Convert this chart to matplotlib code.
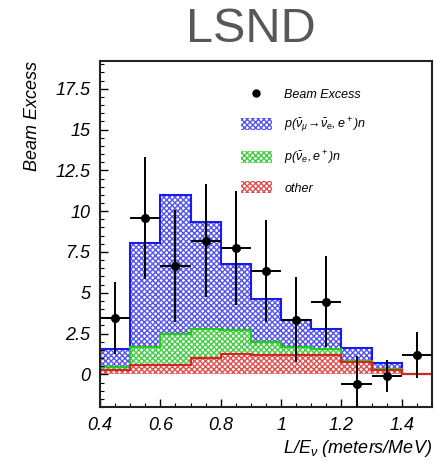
import numpy as np
import matplotlib
matplotlib.use('Agg')
import matplotlib.pyplot as plt
from matplotlib.ticker import MultipleLocator, FuncFormatter
from matplotlib.patches import Patch
from matplotlib.lines import Line2D
from matplotlib.legend_handler import HandlerLine2D

# bin edges in L/E (meters/MeV)
edges = [0.4, 0.5, 0.6, 0.7, 0.8, 0.9, 1.0, 1.1, 1.2, 1.3, 1.4, 1.5]

# stacked histogram tops (cumulative levels)
total = [1.58, 8.03, 11.0, 9.36, 6.74, 4.59, 3.36, 2.81, 1.64, 0.72, 0.05]
green_top = [0.45, 1.68, 2.46, 2.75, 2.70, 1.99, 1.68, 1.58, 0.80, 0.35, 0.05]
other = [0.25, 0.55, 0.55, 1.00, 1.27, 1.20, 1.17, 1.17, 0.76, 0.29, 0.05]

# beam excess data points
x_pts = [0.45, 0.55, 0.65, 0.75, 0.85, 0.95, 1.05, 1.15, 1.25, 1.35, 1.45]
y_pts = [3.46, 9.57, 6.64, 8.19, 7.72, 6.33, 3.36, 4.45, -0.61, -0.10, 1.17]
y_err = [2.2, 3.75, 3.45, 3.47, 3.5, 3.15, 2.63, 2.8, 1.75, 1.0, 1.4]
x_err = [0.05] * len(x_pts)


class RightMarker(HandlerLine2D):
    # put the legend dot at the right end of the handle box
    def get_xdata(self, legend, xdescent, ydescent, width, height, fontsize):
        xdata, _ = super().get_xdata(legend, xdescent, ydescent, width, height, fontsize)
        return xdata, np.array([width - xdescent - 3])


plt.rcParams['font.family'] = 'Liberation Sans'
plt.rcParams['font.style'] = 'italic'
plt.rcParams['mathtext.fontset'] = 'custom'
plt.rcParams['mathtext.it'] = 'Liberation Sans:italic'
plt.rcParams['mathtext.rm'] = 'Liberation Sans:italic'
plt.rcParams['hatch.linewidth'] = 1.0

fig = plt.figure(figsize=(4.37, 4.61), dpi=100)
ax = fig.add_axes([0.2288, 0.1171, 0.7598, 0.7506])

blue = '#1a1aee'
green = '#22cc22'
red = '#dd2222'
blue_h = '#5555ee'
green_h = '#44cc44'
red_h = '#e05050'
hatch = 'xxxxxx'

# hatched fills, drawn largest first
ax.stairs(total, edges, baseline=0, fill=True, facecolor='white',
          edgecolor=blue_h, hatch=hatch, linewidth=0)
ax.stairs(green_top, edges, baseline=0, fill=True, facecolor='white',
          edgecolor=green_h, hatch=hatch, linewidth=0)
ax.stairs(other, edges, baseline=0, fill=True, facecolor='white',
          edgecolor=red_h, hatch=hatch, linewidth=0)

# outlines
ax.stairs(total, edges, baseline=None, color=blue, linewidth=1.5)
ax.stairs(green_top, edges, baseline=None, color=green, linewidth=1.5)
ax.stairs(other, edges, baseline=None, color=red, linewidth=1.5)

ax.errorbar(x_pts, y_pts, yerr=y_err, xerr=x_err, fmt='o', color='black',
            markersize=5.5, elinewidth=1.4, capsize=0, zorder=5)

ax.set_xlim(0.4, 1.5)
ax.set_ylim(-2, 19.2)

ax.xaxis.set_major_locator(MultipleLocator(0.2))
ax.xaxis.set_minor_locator(MultipleLocator(0.05))
ax.yaxis.set_major_locator(MultipleLocator(2.5))
ax.yaxis.set_minor_locator(MultipleLocator(0.5))
ax.xaxis.set_major_formatter(FuncFormatter(lambda v, p: '%g' % round(v, 2)))
ax.yaxis.set_major_formatter(FuncFormatter(lambda v, p: '%g' % round(v, 2)))
ax.tick_params(which='both', direction='in', top=False, right=False,
               labelsize=13, pad=7)
ax.tick_params(which='major', length=6, width=1)
ax.tick_params(which='minor', length=3, width=0.8)
for s in ax.spines.values():
    s.set_linewidth(1.5)
    s.set_color('#222222')

ax.set_ylabel('Beam Excess', loc='top', fontsize=13, labelpad=10)
ax.set_xlabel(r'L/E$_\nu$ (meters/MeV)', loc='right', fontsize=13, labelpad=3)

dot = Line2D([], [], marker='o', color='black', linestyle='none', markersize=5)
handles = [
    dot,
    Patch(facecolor='white', edgecolor=blue_h, hatch=hatch, linewidth=0),
    Patch(facecolor='white', edgecolor=green_h, hatch=hatch, linewidth=0),
    Patch(facecolor='white', edgecolor=red_h, hatch=hatch, linewidth=0),
]
labels = ['Beam Excess',
          r'$p(\bar{\nu}_\mu\!\rightarrow\!\bar{\nu}_e,e^+)n$',
          r'$p(\bar{\nu}_e,e^+)n$',
          'other']
ax.legend(handles, labels, loc='upper left', bbox_to_anchor=(0.39, 0.955),
          frameon=False, fontsize=9, handlelength=2.5, handleheight=1.1,
          labelspacing=1.15, handletextpad=1.0,
          handler_map={dot: RightMarker()})

fig.text(0.574, 0.985, 'LSND', ha='center', va='top', fontsize=35,
         color='#585858', style='normal')

fig.savefig('out.png', dpi=100, facecolor='white')
